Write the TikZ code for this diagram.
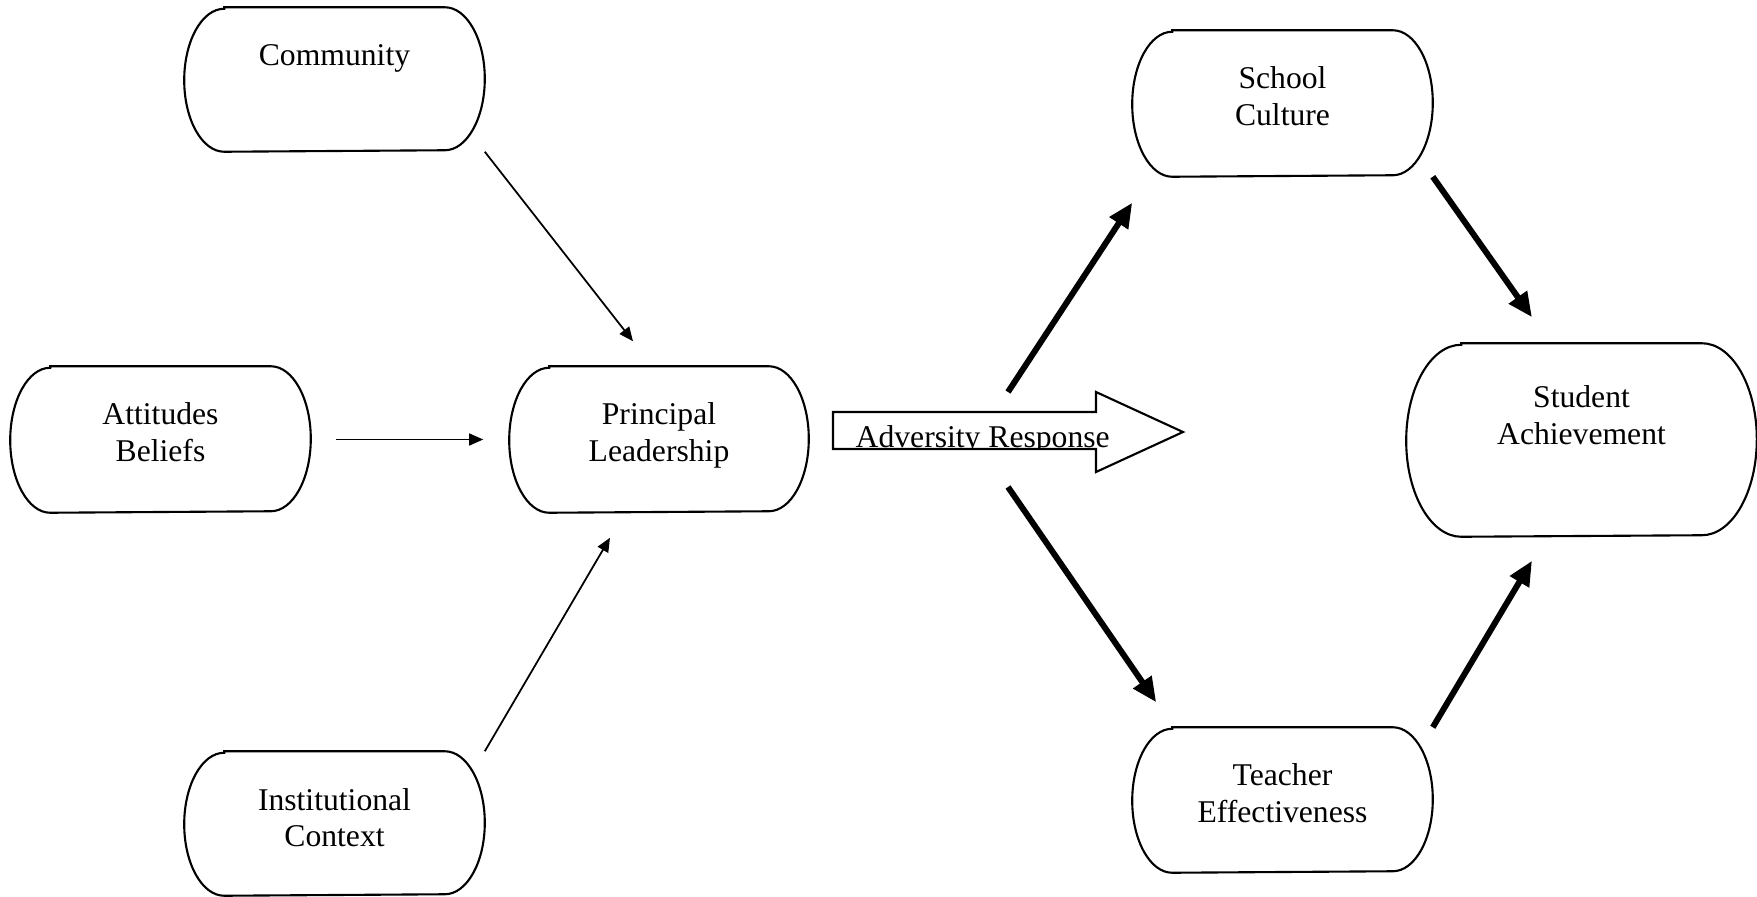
\documentclass[tikz,border=0pt]{standalone}
\usepackage{fontspec}
\setmainfont{Liberation Serif}
\usetikzlibrary{arrows.meta,calc,positioning}
\tikzset {
  >=Stealth,
  every node/.style={font=\fontsize{9}{10.5}\selectfont},
  box/.style={inner sep=0pt},
  outline/.style={line width=0.6pt},
  thinarrow/.style={-{Triangle[length=4pt,width=3.4pt]},line width=0.5pt},
  thickarrow/.style={-{Triangle[length=7pt,width=6pt]},line width=1.7pt},
}
\newcommand{\boxtext}[4]{\parbox[c][#1][t]{#2}{\centering\rule{0pt}{#3}#4}}

\begin{document}
\begin{tikzpicture}[x=0.01cm,y=0.01cm]
  \useasboundingbox (0,0) rectangle (1757,896);
  % left side
  \node[box] (comm) at (334.5,816.5) {\boxtext{1.43cm}{2.99cm}{0.58cm}{Community}};
  \node[box] (att) at (160.5,456.5) {\boxtext{1.45cm}{2.99cm}{0.58cm}{Attitudes\\Beliefs}};
  \node[box] (inst) at (334.5,72.5) {\boxtext{1.43cm}{2.99cm}{0.58cm}{Institutional\\Context}};
  \node[box] (prin) at (659,456.5) {\boxtext{1.45cm}{2.98cm}{0.58cm}{Principal\\Leadership}};
  % right side
  \node[box] (cult) at (1282.5,792.5) {\boxtext{1.45cm}{2.99cm}{0.58cm}{School\\Culture}};
  \node[box] (teach) at (1282.5,96) {\boxtext{1.44cm}{2.99cm}{0.58cm}{Teacher\\Effectiveness}};
  \node[box] (stud) at (1581.5,456) {\boxtext{1.92cm}{3.49cm}{0.64cm}{Student\\Achievement}};
  \foreach \n/\rx/\ry in {comm/40/71.5, att/40/72.5, inst/40/71.5, prin/40/72.5,
                          cult/40/72.5, teach/40/72, stud/55/96}
    \draw[outline] ($(\n.north west)+(\rx,0)$) -- ($(\n.north east)+(-\rx,0)$)
      arc[start angle=90,end angle=-90,x radius=\rx,y radius=\ry]
      -- ($(\n.south west)+(\rx,0)$)
      arc[start angle=270,end angle=90,x radius=\rx,y radius=\ry] -- cycle;

  % adversity response arrow
  \draw[outline] (833,484) -- (1096,484) -- (1096,504) -- (1183,464)
    -- (1096,424) -- (1096,447) -- (833,447) -- cycle;
  \begin{scope}
    \clip (833,447) rectangle (1183,504);
    \node[inner sep=0pt,anchor=base west] (adv) at (855,449) {Adversity Response};
  \end{scope}
  \coordinate (advup) at (1008,504);
  \coordinate (advdown) at (1008,409);

  \draw[thinarrow] (comm.south east) -- ($(prin.north)+(-26,25)$);
  \draw[thinarrow] ($(att.east)+(25,0)$) -- ($(prin.west)+(-26,0)$);
  \draw[thinarrow] (inst.north east) -- ($(prin.south)+(-49,-25)$);

  \draw[thickarrow] (advup) -- ($(cult.south west)+(0,-26)$);
  \draw[thickarrow] (advdown) -- ($(teach.north west)+(24,25)$);
  \draw[thickarrow] (cult.south east) -- ($(stud.north)+(-49.5,26)$);
  \draw[thickarrow] (teach.north east) -- ($(stud.south)+(-49.5,-24)$);
\end{tikzpicture}
\end{document}
